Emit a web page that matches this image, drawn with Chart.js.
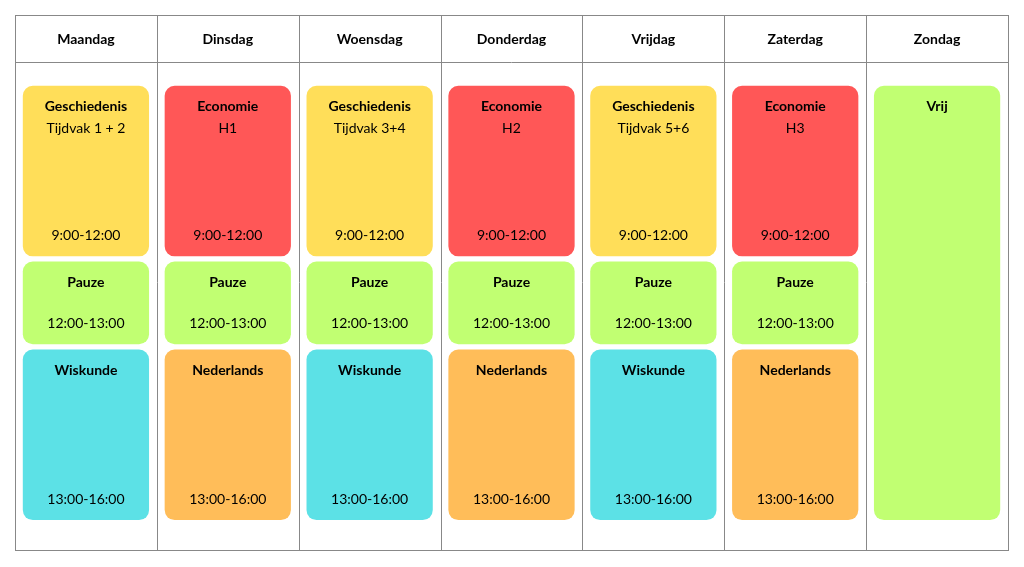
<!DOCTYPE html>
<html>
<head>
<meta charset="utf-8">
<script src="https://cdn.jsdelivr.net/npm/chart.js@4"></script>
<style>body{margin:0;background:#fff}</style>
</head>
<body>
<canvas id="rooster" width="1024" height="567"></canvas>
<script>
// dagen en lessen
var days = ['Maandag', 'Dinsdag', 'Woensdag', 'Donderdag', 'Vrijdag', 'Zaterdag', 'Zondag'];
var morningSubject = ['Geschiedenis', 'Economie', 'Geschiedenis', 'Economie', 'Geschiedenis', 'Economie', null];
var morningDetail = ['Tijdvak 1 + 2', 'H1', 'Tijdvak 3+4', 'H2', 'Tijdvak 5+6', 'H3', null];
var afternoonSubject = ['Wiskunde', 'Nederlands', 'Wiskunde', 'Nederlands', 'Wiskunde', 'Nederlands', null];
var timeLabels = ['9:00-12:00', '12:00-13:00', '13:00-16:00'];
// blokken in rij-eenheden: ochtend 0-2, pauze 2-3, middag 3-5
var morningSlot = [0, 2];
var pauseSlot = [2, 3];
var afternoonSlot = [3, 5];
var sundaySlot = [0, 5];

var colors = {
  Geschiedenis: '#FFDE59', Economie: '#FF5757', Wiskunde: '#5CE1E6',
  Nederlands: '#FFBD59', Pauze: '#C1FF72', Vrij: '#C1FF72'
};
var gap = 0.03;
function slot(s) { return [s[0] + gap, s[1] - gap]; }

var datasets = [
  {
    data: days.map(function(d, i) { return morningSubject[i] ? slot(morningSlot) : null; }),
    backgroundColor: morningSubject.map(function(s) { return colors[s] || '#fff'; }),
    titles: morningSubject, details: morningDetail, time: timeLabels[0]
  },
  {
    data: days.map(function(d, i) { return morningSubject[i] ? slot(pauseSlot) : null; }),
    backgroundColor: colors.Pauze,
    titles: days.map(function() { return 'Pauze'; }), details: [], time: timeLabels[1]
  },
  {
    data: days.map(function(d, i) { return afternoonSubject[i] ? slot(afternoonSlot) : null; }),
    backgroundColor: afternoonSubject.map(function(s) { return colors[s] || '#fff'; }),
    titles: afternoonSubject, details: [], time: timeLabels[2]
  },
  {
    data: days.map(function(d, i) { return i == 6 ? slot(sundaySlot) : null; }),
    backgroundColor: colors.Vrij,
    titles: days.map(function() { return 'Vrij'; }), details: [], time: null
  }
];
datasets.forEach(function(ds) {
  ds.borderRadius = 10;
  ds.borderSkipped = false;
  ds.grouped = false;
  ds.barPercentage = 0.89;
  ds.categoryPercentage = 1;
});

var tablePlugin = {
  id: 'table',
  afterDatasetsDraw: function(chart) {
    var c = chart.ctx, a = chart.chartArea, x = chart.scales.x;
    c.save();
    c.strokeStyle = '#888';
    c.lineWidth = 1;
    c.strokeRect(15.5, 15.5, a.right - 15, a.bottom - 15);
    c.beginPath();
    c.moveTo(15, 62.5); c.lineTo(a.right, 62.5);
    for (var i = 1; i < days.length; i++) {
      var px = Math.round((x.getPixelForValue(i - 1) + x.getPixelForValue(i)) / 2) + 0.5;
      c.moveTo(px, 15); c.lineTo(px, a.bottom);
    }
    c.stroke();
    c.fillStyle = '#000';
    c.textAlign = 'center';
    c.textBaseline = 'middle';
    c.font = 'bold 14px Lato';
    days.forEach(function(d, i) { c.fillText(d, x.getPixelForValue(i), 39); });

    chart.data.datasets.forEach(function(ds, di) {
      chart.getDatasetMeta(di).data.forEach(function(bar, i) {
        if (!ds.data[i]) return;
        var top = Math.min(bar.y, bar.base), bot = Math.max(bar.y, bar.base);
        c.font = 'bold 14px Lato';
        c.fillText(ds.titles[i], bar.x, top + 21);
        if (ds.details[i]) {
          c.font = '14px Lato';
          c.fillText(ds.details[i], bar.x, top + 43);
        }
        if (ds.time) {
          c.font = '14px Lato';
          c.fillText(ds.time, bar.x, bot - 21);
        }
      });
    });
    c.restore();
  }
};

new Chart(document.getElementById('rooster').getContext('2d'), {
  type: 'bar',
  data: { labels: days, datasets: datasets },
  options: {
    responsive: false,
    animation: false,
    layout: { padding: { left: 15, right: 16, top: 62, bottom: 17 } },
    plugins: { legend: { display: false }, tooltip: { enabled: false } },
    scales: {
      x: { display: false },
      y: { display: false, reverse: true, min: -0.24, max: 5.31 }
    }
  },
  plugins: [tablePlugin]
});
</script>
</body>
</html>
